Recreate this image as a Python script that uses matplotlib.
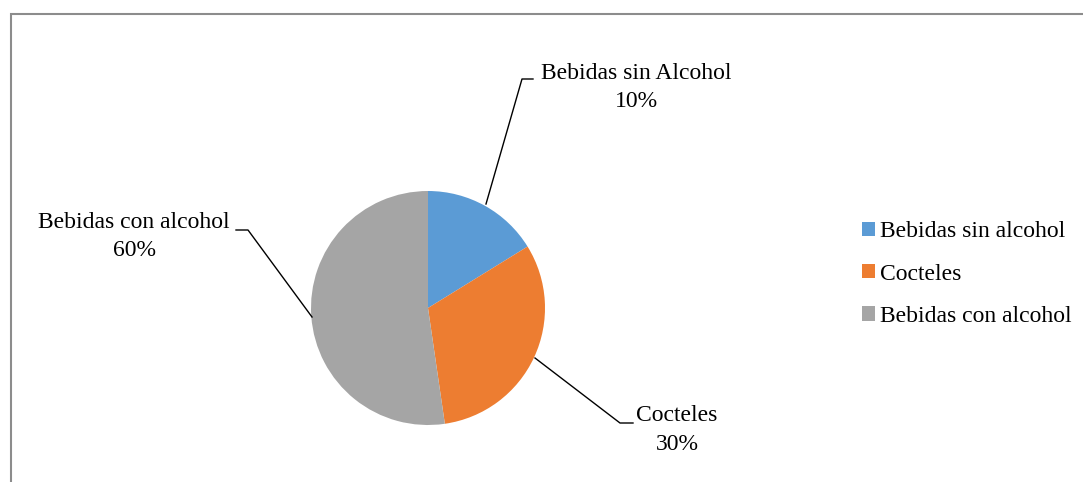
import matplotlib.pyplot as plt
from matplotlib.patches import Rectangle

plt.rcParams['font.family'] = ['Liberation Serif', 'DejaVu Serif']

# datos
categorias = ["Bebidas sin alcohol", "Cocteles", "Bebidas con alcohol"]
valores = [16.2, 31.5, 52.3]
etiquetas = ["Bebidas sin Alcohol\n10%", "Cocteles\n30%", "Bebidas con alcohol\n60%"]
colores = ["#5B9BD5", "#ED7D31", "#A5A5A5"]

W, H = 1083, 482
fig = plt.figure(figsize=(W / 100, H / 100), dpi=100)
ax = fig.add_axes([0, 0, 1, 1])

# marco del grafico
fig.patches.append(Rectangle((11 / W, -0.1), 1.2, (H - 14) / H + 0.1, transform=fig.transFigure,
                             fill=False, edgecolor="#8c8c8c", linewidth=1.5))

cx, cy, r = 428, H - 308, 117
wedges, _ = ax.pie(valores, colors=colores, startangle=90, counterclock=False,
                   center=(cx, cy), radius=r, frame=True)
ax.set_xlim(0, W)
ax.set_ylim(0, H)
ax.set_aspect("equal")
ax.axis("off")

fs = 17
ls = 1.45
# etiquetas con lineas guia
ax.text(636, H - 87.5, etiquetas[0], ha="center", va="center", fontsize=fs, linespacing=ls)
ax.plot([533, 522, 486], [H - 79, H - 79, H - 204], color="black", lw=1)

ax.text(677, H - 430, etiquetas[1], ha="center", va="center", fontsize=fs, linespacing=ls)
ax.plot([535, 620, 633], [H - 358, H - 423, H - 423], color="black", lw=1)

ax.text(134, H - 236.5, etiquetas[2], ha="center", va="center", fontsize=fs, linespacing=ls)
ax.plot([236, 248, 312], [H - 230, H - 230, H - 317], color="black", lw=1)

ax.legend(wedges, categorias, loc="center left", bbox_to_anchor=(862 / W, (H - 274) / H),
          frameon=False, fontsize=fs, handlelength=0.55, handleheight=0.55,
          handletextpad=0.2, labelspacing=0.9, borderpad=0, borderaxespad=0)

fig.savefig("out.png", dpi=100)
